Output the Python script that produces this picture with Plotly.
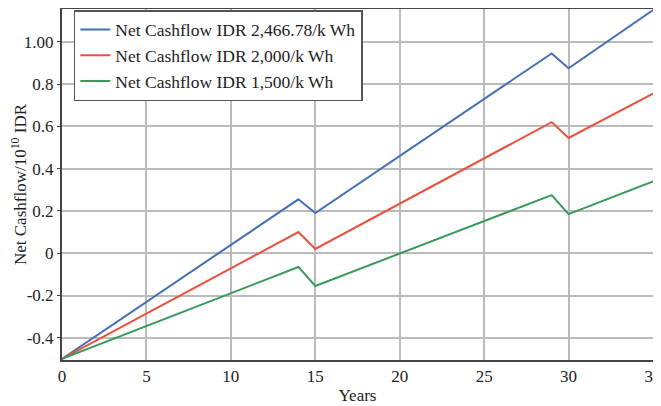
import plotly.graph_objects as go

years = [0, 14, 15, 29, 30, 35]
blue_vals = [-0.50, 0.255, 0.19, 0.945, 0.875, 1.15]
red_vals = [-0.50, 0.10, 0.02, 0.62, 0.545, 0.755]
green_vals = [-0.50, -0.065, -0.155, 0.275, 0.185, 0.34]
names = ["Net Cashflow IDR 2,466.78/k Wh",
         "Net Cashflow IDR 2,000/k Wh",
         "Net Cashflow IDR 1,500/k Wh"]
colors = ["#4470b5", "#e8513f", "#3a9a5c"]

x_ticks = [0, 5, 10, 15, 20, 25, 30, 35]
y_ticks = [-0.4, -0.2, 0, 0.2, 0.4, 0.6, 0.8, 1.0]
y_ticktext = ["-0.4", "-0.2", "0", "0.2", "0.4", "0.6", "0.8", "1.00"]

fig = go.Figure()
for i, (vals, name, col) in enumerate(zip([blue_vals, red_vals, green_vals], names, colors)):
    fig.add_trace(go.Scatter(x=years, y=vals, mode="lines", name=name,
                             legendgroup=f"g{i}",
                             line=dict(color=col, width=2)))

font = "Liberation Serif, Times New Roman, serif"
# The page body adds an 8px offset, so the figure is sized to fit the window.
fig.update_layout(
    width=653, height=398,
    margin=dict(l=54, r=8, t=1, b=46, autoexpand=False),
    paper_bgcolor="white", plot_bgcolor="white",
    font=dict(family=font, size=16, color="#222"),
    showlegend=True,
    legend=dict(x=0.02, y=0.997, xanchor="left", yanchor="top",
                bgcolor="white", bordercolor="#555", borderwidth=1.5,
                font=dict(family=font, size=17.5, color="#222"),
                tracegroupgap=0, itemwidth=30),
    xaxis=dict(range=[0, 35], tickvals=x_ticks, showgrid=True,
               gridcolor="#bbbbbb", gridwidth=1.5, automargin=False,
               showline=True, linecolor="#444", linewidth=2, mirror=True,
               ticks="", ticklabeloverflow="allow",
               tickfont=dict(family=font, size=17, color="#222"),
               title=dict(text="Years", font=dict(family=font, size=17, color="#222"), standoff=4),
               zeroline=False),
    yaxis=dict(range=[-0.505, 1.155], tickvals=y_ticks, ticktext=y_ticktext,
               showgrid=True, gridcolor="#bbbbbb", gridwidth=1.5, automargin=False,
               showline=True, linecolor="#444", linewidth=2, mirror=True,
               ticks="outside", ticklen=3, tickcolor="#444",
               tickfont=dict(family=font, size=17, color="#222"),
               title=dict(text="Net Cashflow/10<sup>10</sup> IDR",
                          font=dict(family=font, size=17, color="#222"), standoff=4),
               zeroline=False),
)

fig.write_html("out.html")
